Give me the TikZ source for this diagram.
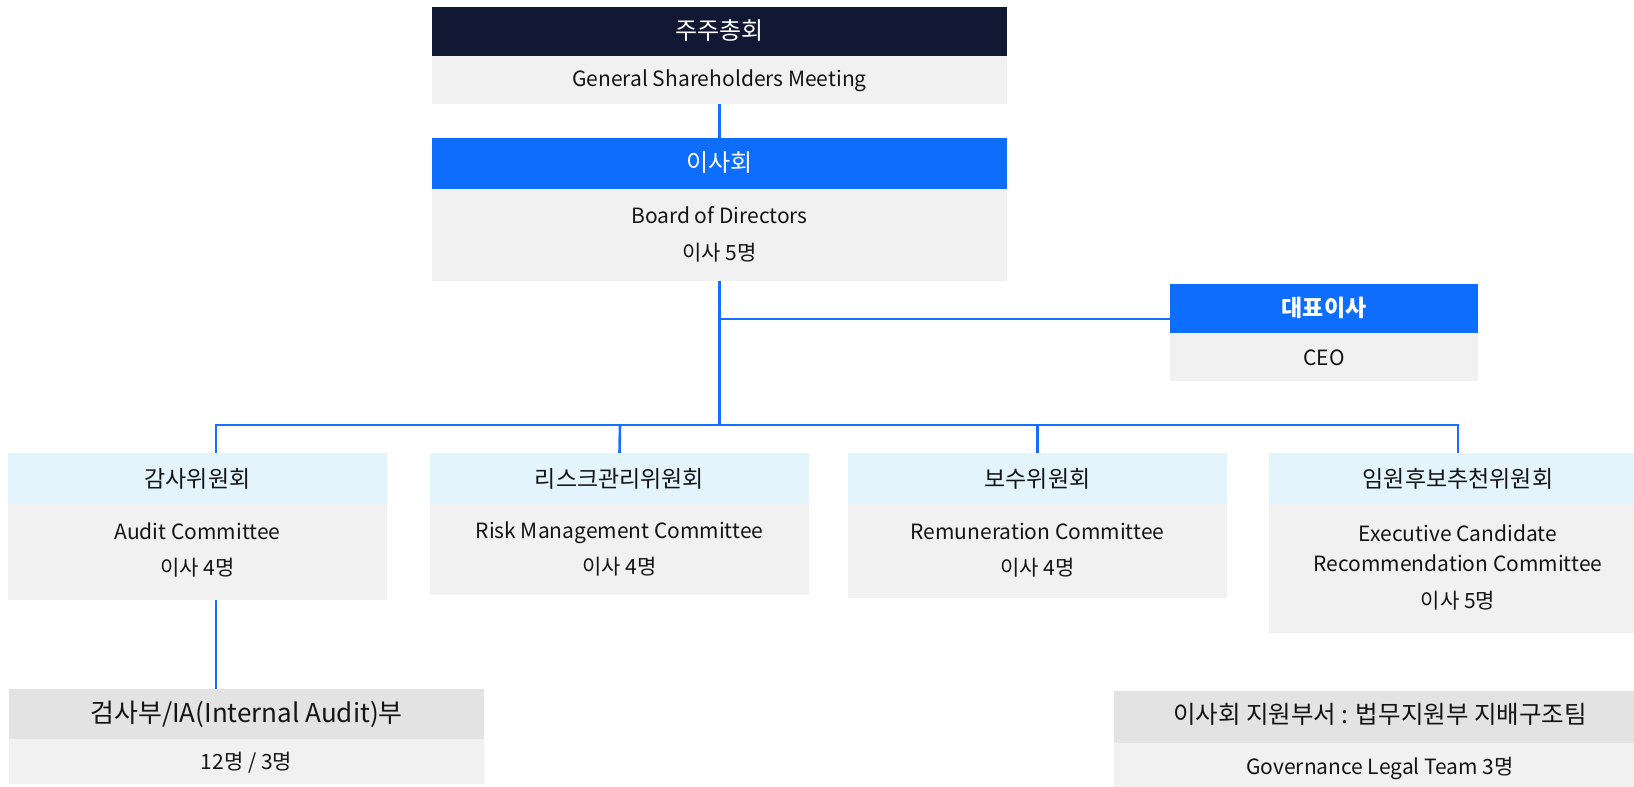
\documentclass[tikz,border=0pt]{standalone}
\usepackage{fontspec}
\setmainfont{Noto Sans CJK KR}
\definecolor{navy}{HTML}{111833}
\definecolor{mainblue}{HTML}{0D6EFD}
\definecolor{lineblue}{HTML}{1570FF}
\definecolor{lightblue}{HTML}{E3F4FD}
\definecolor{boxgray}{HTML}{F1F1F1}
\definecolor{darkgray}{HTML}{E3E3E3}
\definecolor{ink}{HTML}{141414}
\begin{document}
\begin{tikzpicture}[x=1pt,y=-1pt,
  box/.style={anchor=north west, inner sep=0pt, outer sep=0pt, draw=none},
  hd/.style={anchor=base, inner sep=0pt, font=\fontsize{23}{27}\selectfont},
  hdbig/.style={anchor=base, inner sep=0pt, font=\fontsize{24}{28}\selectfont},
  en/.style={anchor=base, inner sep=0pt, text=ink, font=\fontsize{21}{25}\selectfont},
  conn/.style={draw=lineblue, line width=2.6pt}]
\useasboundingbox (0,0) rectangle (1634,787);
\clip (0,0) rectangle (1634,787);
% General shareholders meeting
\node[box, fill=navy, minimum width=575pt, minimum height=49pt] (gmH) at (432,7) {};
\node[box, fill=boxgray, minimum width=575pt, minimum height=48pt] (gmB) at (432,56) {};
\node[hdbig, text=white] (gmT) at (719.5,39.5) {주주총회};
\node[en] (gmE) at (719.5,86.5) {General Shareholders Meeting};
% Board
\node[box, fill=mainblue, minimum width=575pt, minimum height=51pt] (bodH) at (432,138) {};
\node[box, fill=boxgray, minimum width=575pt, minimum height=92pt] (bodB) at (432,189) {};
\node[hdbig, text=white] (bodT) at (719.5,171.5) {이사회};
\node[en] (bodE) at (719.5,223.5) {Board of Directors};
\node[en] (bodN) at (719.5,260.5) {이사 5명};
% CEO
\node[box, fill=mainblue, minimum width=308pt, minimum height=49pt] (ceoH) at (1170,284) {};
\node[box, fill=boxgray, minimum width=308pt, minimum height=48pt] (ceoB) at (1170,333) {};
\node[hd, text=white, font=\fontsize{23}{27}\selectfont\bfseries] (ceoT) at (1324,316) {대표이사};
\node[en] (ceoE) at (1324,365.5) {CEO};
% Committees
\node[box, fill=lightblue, minimum width=379pt, minimum height=50pt] (c1H) at (8,453) {};
\node[box, fill=boxgray, minimum width=379pt, minimum height=97pt] (c1B) at (8,503) {};
\node[hd, text=ink] (c1T) at (197.5,487) {감사위원회};
\node[en] (c1E) at (197.5,539.5) {Audit Committee};
\node[en] (c1N) at (197.5,575.5) {이사 4명};

\node[box, fill=lightblue, minimum width=379pt, minimum height=50pt] (c2H) at (430,453) {};
\node[box, fill=boxgray, minimum width=379pt, minimum height=92pt] (c2B) at (430,503) {};
\node[hd, text=ink] (c2T) at (619.5,487) {리스크관리위원회};
\node[en] (c2E) at (619.5,538.5) {Risk Management Committee};
\node[en] (c2N) at (619.5,574.5) {이사 4명};

\node[box, fill=lightblue, minimum width=379pt, minimum height=50pt] (c3H) at (848,453) {};
\node[box, fill=boxgray, minimum width=379pt, minimum height=95pt] (c3B) at (848,503) {};
\node[hd, text=ink] (c3T) at (1037.5,487) {보수위원회};
\node[en] (c3E) at (1037.5,539.5) {Remuneration Committee};
\node[en] (c3N) at (1037.5,575.5) {이사 4명};

\node[box, fill=lightblue, minimum width=378pt, minimum height=50pt] (c4H) at (1269,453) {};
\node[box, fill=boxgray, minimum width=378pt, minimum height=130pt] (c4B) at (1269,503) {};
\node[hd, text=ink] (c4T) at (1458,487) {임원후보추천위원회};
\node[en] (c4E) at (1458,541.5) {Executive Candidate};
\node[en] (c4F) at (1458,571.5) {Recommendation Committee};
\node[en] (c4N) at (1458,608.5) {이사 5명};
% Internal audit
\node[box, fill=darkgray, minimum width=475pt, minimum height=50pt] (iaH) at (9,689) {};
\node[box, fill=boxgray, minimum width=475pt, minimum height=45pt] (iaB) at (9,739) {};
\node[hd, text=ink, font=\fontsize{26}{30}\selectfont] (iaT) at (246.5,722.5) {검사부/IA(Internal Audit)부};
\node[en] (iaN) at (246.5,769.5) {12명 / 3명};
% Support team
\node[box, fill=darkgray, minimum width=532pt, minimum height=52pt] (supH) at (1114,691) {};
\node[box, fill=boxgray, minimum width=532pt, minimum height=50pt] (supB) at (1114,743) {};
\node[hd, text=ink, font=\fontsize{24.5}{29}\selectfont] (supT) at (1380,723.5) {이사회 지원부서 : 법무지원부 지배구조팀};
\node[en] (supE) at (1380,774.5) {Governance Legal Team 3명};
% Connectors
\coordinate (bus) at (719.5,425);
\coordinate (ceoJ) at (719.5,319);
\draw[conn] (gmB.south) -- (bodH.north);
\draw[conn] (bodB.south) -- (bus);
\draw[conn] (ceoJ) -- (ceoH.west |- ceoJ);
\draw[conn, line join=miter] (216,453) -- (216,425) -- (1458,425) -- (1458,453);
\draw[conn] (620,425) -- (c2H.north);
\draw[conn] (1037.5,425) -- (c3H.north);
\draw[conn] (216,600) -- (iaH.north -| 216,600);
\end{tikzpicture}
\end{document}
